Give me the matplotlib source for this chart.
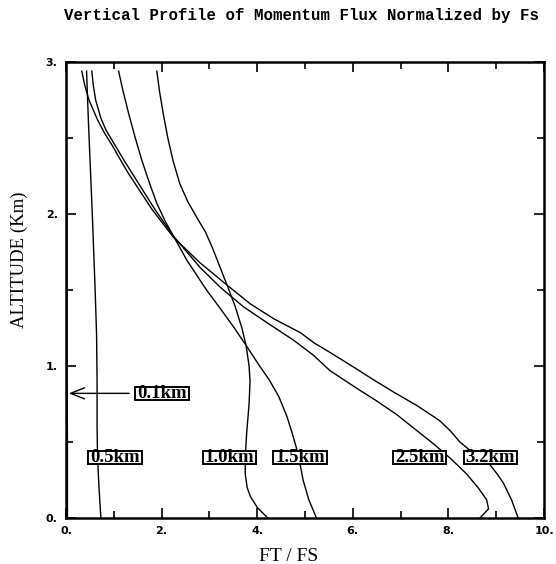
import numpy as np
import matplotlib.pyplot as plt
from matplotlib.ticker import MultipleLocator
from matplotlib.patches import Rectangle

# altitude (km) and normalized flux FT/FS for each source height
alt_01 = [0.0, 0.5, 1.0, 1.5, 2.0, 2.5, 2.94]
ft_01 = [0.03, 0.03, 0.02, 0.02, 0.02, 0.01, 0.01]

alt_05 = [2.94, 2.60, 2.30, 2.00, 1.50, 1.20, 0.90, 0.60, 0.40, 0.20, 0.0]
ft_05 = [0.43, 0.47, 0.51, 0.55, 0.61, 0.64, 0.65, 0.65, 0.66, 0.69, 0.73]

alt_10 = [2.94, 2.80, 2.65, 2.50, 2.35, 2.20, 2.08, 1.97, 1.88, 1.78, 1.66, 1.54, 1.40,
          1.25, 1.13, 1.00, 0.90, 0.75, 0.56, 0.40, 0.29, 0.20, 0.14, 0.07, 0.0]
ft_10 = [1.90, 1.96, 2.04, 2.13, 2.24, 2.38, 2.55, 2.75, 2.92, 3.06, 3.21, 3.36, 3.53,
         3.68, 3.77, 3.83, 3.85, 3.83, 3.78, 3.75, 3.75, 3.79, 3.86, 4.00, 4.22]

alt_15 = [2.94, 2.80, 2.65, 2.50, 2.35, 2.20, 2.07, 1.95, 1.87, 1.78, 1.70, 1.60, 1.50,
          1.39, 1.26, 1.13, 1.00, 0.91, 0.80, 0.67, 0.55, 0.45, 0.35, 0.25, 0.12, 0.0]
ft_15 = [1.10, 1.20, 1.32, 1.45, 1.59, 1.75, 1.90, 2.08, 2.22, 2.38, 2.52, 2.73, 2.94,
         3.20, 3.50, 3.78, 4.05, 4.25, 4.45, 4.62, 4.74, 4.83, 4.90, 4.96, 5.08, 5.24]

alt_25 = [2.94, 2.85, 2.75, 2.63, 2.55, 2.45, 2.35, 2.27, 2.15, 2.03, 1.85, 1.65, 1.52,
          1.39, 1.28, 1.17, 1.07, 0.97, 0.86, 0.77, 0.68, 0.58, 0.49, 0.39, 0.29, 0.20,
          0.12, 0.06, 0.0]
ft_25 = [0.54, 0.57, 0.62, 0.73, 0.84, 1.03, 1.22, 1.38, 1.62, 1.86, 2.26, 2.80, 3.22,
         3.71, 4.23, 4.76, 5.18, 5.52, 6.05, 6.50, 6.92, 7.32, 7.68, 8.05, 8.38, 8.62,
         8.80, 8.84, 8.66]

alt_32 = [2.94, 2.85, 2.75, 2.62, 2.53, 2.45, 2.35, 2.27, 2.15, 2.03, 1.85, 1.68, 1.55,
          1.41, 1.31, 1.22, 1.15, 1.09, 1.00, 0.91, 0.82, 0.74, 0.64, 0.57, 0.50, 0.42,
          0.35, 0.29, 0.23, 0.12, 0.0]
ft_32 = [0.33, 0.39, 0.48, 0.66, 0.81, 0.97, 1.15, 1.30, 1.55, 1.80, 2.24, 2.80, 3.30,
         3.85, 4.35, 4.90, 5.20, 5.52, 5.98, 6.43, 6.90, 7.34, 7.82, 8.05, 8.24, 8.55,
         8.87, 9.02, 9.15, 9.32, 9.46]

labels = ["0.5km", "1.0km", "1.5km", "2.5km", "3.2km"]
label_x = [0.50, 2.90, 4.38, 6.88, 8.36]
label_y = 0.40

fig = plt.figure(figsize=(5.56, 5.64), dpi=100)
ax = fig.add_axes([66/556, 46/564, 478/556, 456/564])

for x, y in [(ft_01, alt_01), (ft_05, alt_05), (ft_10, alt_10),
             (ft_15, alt_15), (ft_25, alt_25), (ft_32, alt_32)]:
    ax.plot(x, y, color="black", linewidth=1.0)

texts = []
for t, x in zip(labels, label_x):
    texts.append(ax.text(x, label_y, t, ha="left", va="center", family="Liberation Serif",
                         fontweight="bold", fontsize=13.5, zorder=5))

ax.annotate("", xy=(0.0, 0.82), xytext=(1.38, 0.82),
            arrowprops=dict(arrowstyle="->,head_length=1.0,head_width=0.4",
                            color="black", linewidth=1.0))
texts.append(ax.text(1.49, 0.82, "0.1km", ha="left", va="center", family="Liberation Serif",
                     fontweight="bold", fontsize=13.5, zorder=5))

ax.set_xlim(0, 10)
ax.set_ylim(0, 3)
ax.xaxis.set_minor_locator(MultipleLocator(1))
ax.yaxis.set_minor_locator(MultipleLocator(0.5))
ax.set_xticks([0, 2, 4, 6, 8, 10], ["0.", "2.", "4.", "6.", "8.", "10."])
ax.set_yticks([0, 1, 2, 3], ["0.", "1.", "2.", "3."])
ax.tick_params(which="both", direction="in", top=True, right=True, width=1.2,
               labelsize=8)
ax.tick_params(which="major", length=7, pad=6)
ax.tick_params(which="minor", length=5)
for lab in ax.get_xticklabels() + ax.get_yticklabels():
    lab.set_fontweight("bold")
for s in ax.spines.values():
    s.set_linewidth(1.8)

ax.set_xlabel("FT / FS", family="Liberation Serif", fontsize=14)
ax.xaxis.set_label_coords(0.465, -0.066)
ax.set_ylabel("ALTITUDE (Km)", family="Liberation Serif", fontsize=13.5)
ax.yaxis.set_label_coords(-0.08, 0.566)
fig.text(0.543, 0.972, "Vertical Profile of Momentum Flux Normalized by Fs",
         ha="center", va="center", family="Liberation Mono", fontweight="bold",
         fontsize=11.3)

# tight boxes around the labels
fig.canvas.draw()
r = fig.canvas.get_renderer()
W, H = fig.bbox.width, fig.bbox.height
for t in texts:
    e = t.get_window_extent(r)
    x0, x1 = e.x0 - 2, e.x1 + 2
    y0, y1 = e.y0 + 2, e.y1 - 2
    fig.add_artist(Rectangle((x0/W, y0/H), (x1-x0)/W, (y1-y0)/H, transform=fig.transFigure,
                             facecolor="white", edgecolor="black", linewidth=1.4, zorder=4))
    t.set_zorder(6)
    t.remove()
    fig.add_artist(t)

fig.savefig("out.png", dpi=100)
